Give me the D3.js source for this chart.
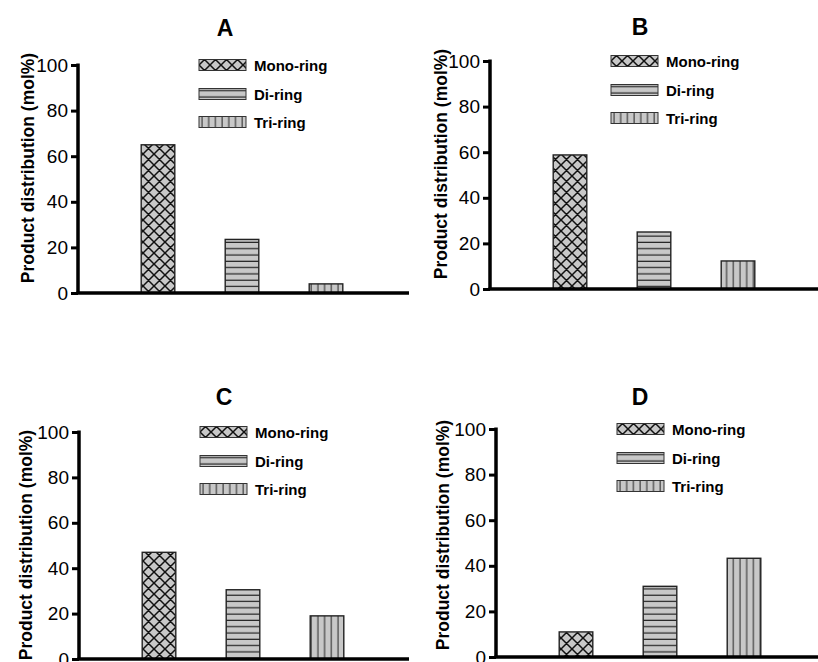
<!DOCTYPE html>
<html>
<head>
<meta charset="utf-8">
<script src="https://cdn.jsdelivr.net/npm/d3@7"></script>
<style>
  html, body { margin: 0; padding: 0; background: #fff; }
  svg { display: block; }
</style>
</head>
<body>
<svg id="chart" width="818" height="662"></svg>
<script>
// ---- data ----
const categories = ["Mono-ring", "Di-ring", "Tri-ring"];
const panelNames = ["A", "B", "C", "D"];
const valuesA = [65, 23.5, 4];
const valuesB = [58.8, 25, 12.3];
const valuesC = [47, 30.5, 19];
const valuesD = [11, 31, 43.3];
const yTicks = [0, 20, 40, 60, 80, 100];
const yLabel = "Product distribution (mol%)";
const panelValues = [valuesA, valuesB, valuesC, valuesD];

// ---- layout (pixels) ----
const layout = [
  { ax: 78,  yTop: 65,  yBot: 293, xEnd: 409, tx: 225, ty: 36,  lx: 34,  ly: 168 },
  { ax: 490, yTop: 61,  yBot: 289, xEnd: 818, tx: 640, ty: 35,  lx: 447, ly: 164 },
  { ax: 79,  yTop: 432, yBot: 659, xEnd: 409, tx: 224, ty: 405, lx: 32,  ly: 545 },
  { ax: 496, yTop: 429, yBot: 657, xEnd: 818, tx: 640, ty: 405, lx: 449, ly: 535 }
];

const svg = d3.select("#chart");
svg.append("rect").attr("width", 818).attr("height", 662).attr("fill", "#fff");

const defs = svg.append("defs");
const fillGray = "#c8c8c8";
// cross-hatch
const pCross = defs.append("pattern").attr("id", "pat-cross")
  .attr("patternUnits", "userSpaceOnUse").attr("width", 11).attr("height", 11);
pCross.append("rect").attr("width", 11).attr("height", 11).attr("fill", fillGray);
pCross.append("path").attr("d", "M0,0L11,11M0,11L11,0M-1,1L1,-1M10,12L12,10M-1,10L1,12M10,-1L12,1")
  .attr("stroke", "#111").attr("stroke-width", 1.5).attr("fill", "none");
// horizontal
const pHor = defs.append("pattern").attr("id", "pat-hor")
  .attr("patternUnits", "userSpaceOnUse").attr("width", 10).attr("height", 6.3);
pHor.append("rect").attr("width", 10).attr("height", 6.3).attr("fill", fillGray);
pHor.append("line").attr("x1", 0).attr("x2", 10).attr("y1", 3).attr("y2", 3)
  .attr("stroke", "#222").attr("stroke-width", 1.2);
// vertical
const pVer = defs.append("pattern").attr("id", "pat-ver")
  .attr("patternUnits", "userSpaceOnUse").attr("width", 6.7).attr("height", 10);
pVer.append("rect").attr("width", 6.7).attr("height", 10).attr("fill", fillGray);
pVer.append("line").attr("y1", 0).attr("y2", 10).attr("x1", 3).attr("x2", 3)
  .attr("stroke", "#333").attr("stroke-width", 1.1);

const patterns = ["url(#pat-cross)", "url(#pat-hor)", "url(#pat-ver)"];
const color = d3.scaleOrdinal().domain(categories).range(patterns);

panelNames.forEach((name, i) => {
  const L = layout[i];
  const vals = panelValues[i];
  const g = svg.append("g");

  const y = d3.scaleLinear().domain([0, 100]).range([L.yBot, L.yTop]);
  const x = d3.scaleBand().domain(categories)
    .range([L.ax + 38, L.ax + 290]).paddingInner(0.6).paddingOuter(0.3);

  // bars
  g.selectAll("rect.bar").data(categories).join("rect")
    .attr("class", "bar")
    .attr("x", d => x(d))
    .attr("width", x.bandwidth())
    .attr("y", (d, k) => y(vals[k]))
    .attr("height", (d, k) => y(0) - y(vals[k]))
    .attr("fill", d => color(d))
    .attr("stroke", "#222").attr("stroke-width", 1.4);

  // y axis
  const yAxis = d3.axisLeft(y).tickValues(yTicks).tickSize(7).tickPadding(3).tickFormat(d3.format("d"));
  const ya = g.append("g").attr("transform", `translate(${L.ax},0)`).call(yAxis);
  ya.select(".domain").attr("stroke", "#000").attr("stroke-width", 3.5)
    .attr("d", `M0,${L.yTop - 1.5}V${L.yBot}`);
  ya.selectAll(".tick line").attr("stroke", "#000").attr("stroke-width", 3);
  ya.selectAll(".tick text").attr("font-family", "Liberation Sans, Arial, sans-serif")
    .attr("font-size", 19).attr("fill", "#000");

  // x axis line
  g.append("line").attr("x1", L.ax - 1.5).attr("x2", L.xEnd)
    .attr("y1", y(0)).attr("y2", y(0))
    .attr("stroke", "#000").attr("stroke-width", 3.5);

  // title
  g.append("text").attr("x", L.tx).attr("y", L.ty).attr("text-anchor", "middle")
    .attr("font-family", "Liberation Sans, Arial, sans-serif").attr("font-weight", "bold")
    .attr("font-size", 23).text(name);

  // y label
  g.append("text").attr("transform", `translate(${L.lx},${L.ly}) rotate(-90)`)
    .attr("text-anchor", "middle")
    .attr("font-family", "Liberation Sans, Arial, sans-serif").attr("font-weight", "bold")
    .attr("font-size", 17.5).text(yLabel);

  // legend
  const lg = g.append("g").attr("transform", `translate(${L.ax + 121},${L.yTop})`);
  const items = lg.selectAll("g").data(categories).join("g")
    .attr("transform", (d, k) => `translate(0,${[0, 29, 57][k]})`);
  items.append("rect").attr("x", 0).attr("y", -5.5).attr("width", 47).attr("height", 11)
    .attr("fill", d => color(d)).attr("stroke", "#333").attr("stroke-width", 1);
  items.append("text").attr("x", 55).attr("y", 5.5)
    .attr("font-family", "Liberation Sans, Arial, sans-serif").attr("font-weight", "bold")
    .attr("font-size", 15).text(d => d);
});
</script>
</body>
</html>
